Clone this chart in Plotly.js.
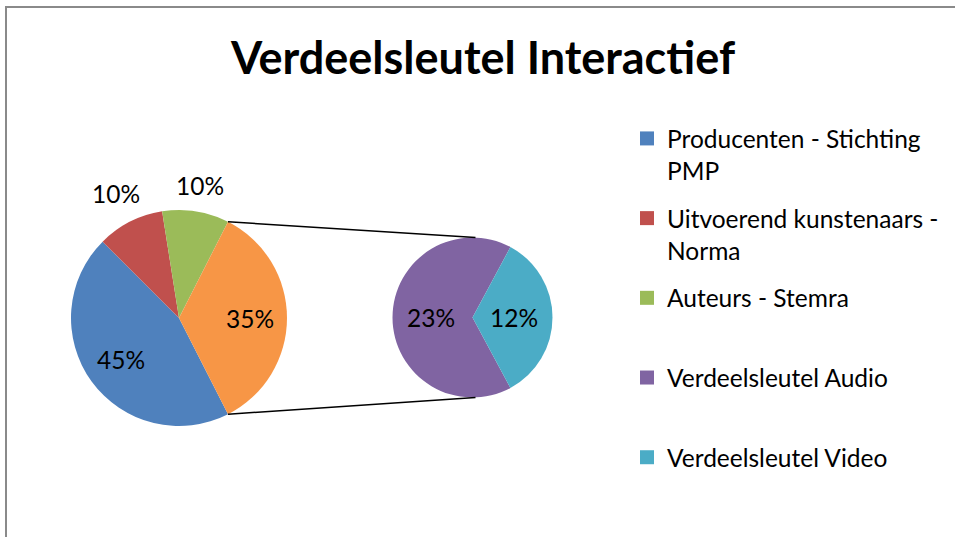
<!DOCTYPE html>
<html><head><meta charset="utf-8">
<script src="https://cdn.plot.ly/plotly-3.0.1.min.js"></script>
<style>html,body{margin:0;padding:0;background:#fff}</style>
</head><body>
<div id="chart" style="width:955px;height:537px"></div>
<script>
// ---- data ----
const mainLabels = ['Producenten - Stichting PMP', 'Uitvoerend kunstenaars - Norma', 'Auteurs - Stemra', 'Verdeelsleutel Interactief (overig)'];
const mainValues = [45, 10, 10, 35];
const mainColors = ['#4F81BD', '#C0504D', '#9BBB59', '#F79646'];
const mainTextPos = ['inside', 'outside', 'outside', 'inside'];
const subLabels = ['Verdeelsleutel Audio', 'Verdeelsleutel Video'];
const subValues = [23, 12];
const subColors = ['#8064A2', '#4BACC6'];
const subTextPos = ['inside', 'inside'];
const legendNames = ['Producenten - Stichting<br>PMP', 'Uitvoerend kunstenaars -<br>Norma', 'Auteurs - Stemra<br> ', 'Verdeelsleutel Audio<br> ', 'Verdeelsleutel Video<br> '];
const legendColors = [mainColors[0], mainColors[1], mainColors[2], subColors[0], subColors[1]];

const W = 955, H = 537;
const FONT = 'Lato, "Open Sans", sans-serif';
const LABEL_SIZE = 24.5;

const dom1 = {x: [71 / W, 287 / W], y: [1 - 426 / H, 1 - 210 / H]};
const dom2 = {x: [392.5 / W, 552.5 / W], y: [1 - 397.5 / H, 1 - 237.5 / H]};

const sum = a => a.reduce((s, v) => s + v, 0);
const splitFrac = mainValues[mainValues.length - 1] / sum(mainValues);
const subFrac = subValues[subValues.length - 1] / sum(subValues);
const rot1 = 90 + splitFrac * 180;
const rot2 = 90 + subFrac * 180;

const traces = [
  {
    type: 'pie', labels: mainLabels, values: mainValues, sort: false,
    direction: 'clockwise', rotation: rot1,
    marker: {colors: mainColors, line: {width: 0}},
    textinfo: 'none', domain: dom1, showlegend: false, hoverinfo: 'label+value'
  },
  {
    type: 'pie', labels: subLabels, values: subValues, sort: false,
    direction: 'clockwise', rotation: rot2,
    marker: {colors: subColors, line: {width: 0}},
    textinfo: 'none', domain: dom2, showlegend: false, hoverinfo: 'label+value'
  }
];
legendNames.forEach((n, i) => {
  traces.push({
    type: 'scatter', mode: 'markers', x: [null], y: [null], name: n,
    legendgroup: 'g' + i,
    marker: {symbol: 'square', size: 14, color: legendColors[i], line: {width: 0}},
    hoverinfo: 'skip'
  });
});

function geom(d) {
  const x0 = d.x[0] * W, x1 = d.x[1] * W, y0 = (1 - d.y[1]) * H, y1 = (1 - d.y[0]) * H;
  return {cx: (x0 + x1) / 2, cy: (y0 + y1) / 2, r: Math.min(x1 - x0, y1 - y0) / 2};
}
const g1 = geom(dom1), g2 = geom(dom2);
const toPaper = (px, py) => [px / W, 1 - py / H];
const rad = a => a * Math.PI / 180;

// data labels placed at each slice's mid angle (computed from values)
function sliceLabels(values, rotation, g, posArr, insideFrac) {
  const tot = sum(values);
  let start = rotation;
  const out = [];
  values.forEach((v, i) => {
    const span = v / tot * 360;
    const mid = rad(start + span / 2);
    start += span;
    const sx = Math.sin(mid), sy = -Math.cos(mid);
    let d;
    if (posArr[i] === 'outside') {
      const hw = LABEL_SIZE * 0.95, hh = LABEL_SIZE * 0.42;
      d = g.r + 12 + Math.abs(sx) * hw + Math.abs(sy) * hh;
    } else {
      d = g.r * insideFrac;
    }
    const p = toPaper(g.cx + d * sx, g.cy + d * sy);
    out.push({
      xref: 'paper', yref: 'paper', x: p[0], y: p[1], xanchor: 'center', yanchor: 'middle',
      text: v + '%', showarrow: false,
      font: {family: FONT, size: LABEL_SIZE, color: '#000'}
    });
  });
  return out;
}
const annotations = sliceLabels(mainValues, rot1, g1, mainTextPos, 0.66)
  .concat(sliceLabels(subValues, rot2, g2, subTextPos, 0.52));

// connector lines from the split slice to the secondary pie
const aTop = rad(90 - splitFrac * 180);
const aBot = rad(90 + splitFrac * 180);
const pTop = toPaper(g1.cx + g1.r * Math.sin(aTop), g1.cy - g1.r * Math.cos(aTop));
const pBot = toPaper(g1.cx + g1.r * Math.sin(aBot), g1.cy - g1.r * Math.cos(aBot));
const qTop = toPaper(g2.cx + 3, g2.cy - g2.r);
const qBot = toPaper(g2.cx + 3, g2.cy + g2.r);

const layout = {
  width: W, height: H,
  margin: {l: 0, r: 0, t: 0, b: 0},
  paper_bgcolor: '#fff', plot_bgcolor: '#fff',
  title: {
    text: '<b>Verdeelsleutel Interactief</b>',
    font: {family: FONT, size: 45, color: '#000'},
    x: 483 / W, xanchor: 'center', xref: 'paper',
    y: 1 - 58 / H, yanchor: 'middle', yref: 'paper'
  },
  xaxis: {visible: false}, yaxis: {visible: false},
  showlegend: true,
  legend: {
    x: 627 / W, xanchor: 'left', y: 1 - 116 / H, yanchor: 'top',
    valign: 'top', tracegroupgap: 13, traceorder: 'grouped',
    font: {family: FONT, size: 24.5, color: '#000'},
    bgcolor: 'rgba(0,0,0,0)', borderwidth: 0
  },
  annotations: annotations,
  shapes: [
    {type: 'line', xref: 'paper', yref: 'paper', x0: pTop[0], y0: pTop[1], x1: qTop[0], y1: qTop[1], line: {color: '#000', width: 1.5}},
    {type: 'line', xref: 'paper', yref: 'paper', x0: pBot[0], y0: pBot[1], x1: qBot[0], y1: qBot[1], line: {color: '#000', width: 1.5}},
    {type: 'rect', xref: 'paper', yref: 'paper', x0: 6 / W, x1: 1.02, y0: -0.02, y1: 1 - 7 / H, line: {color: '#8a8a8a', width: 2}, fillcolor: 'rgba(0,0,0,0)', layer: 'above'}
  ]
};

Plotly.newPlot('chart', traces, layout, {displayModeBar: false, staticPlot: true});
</script>
</body></html>
